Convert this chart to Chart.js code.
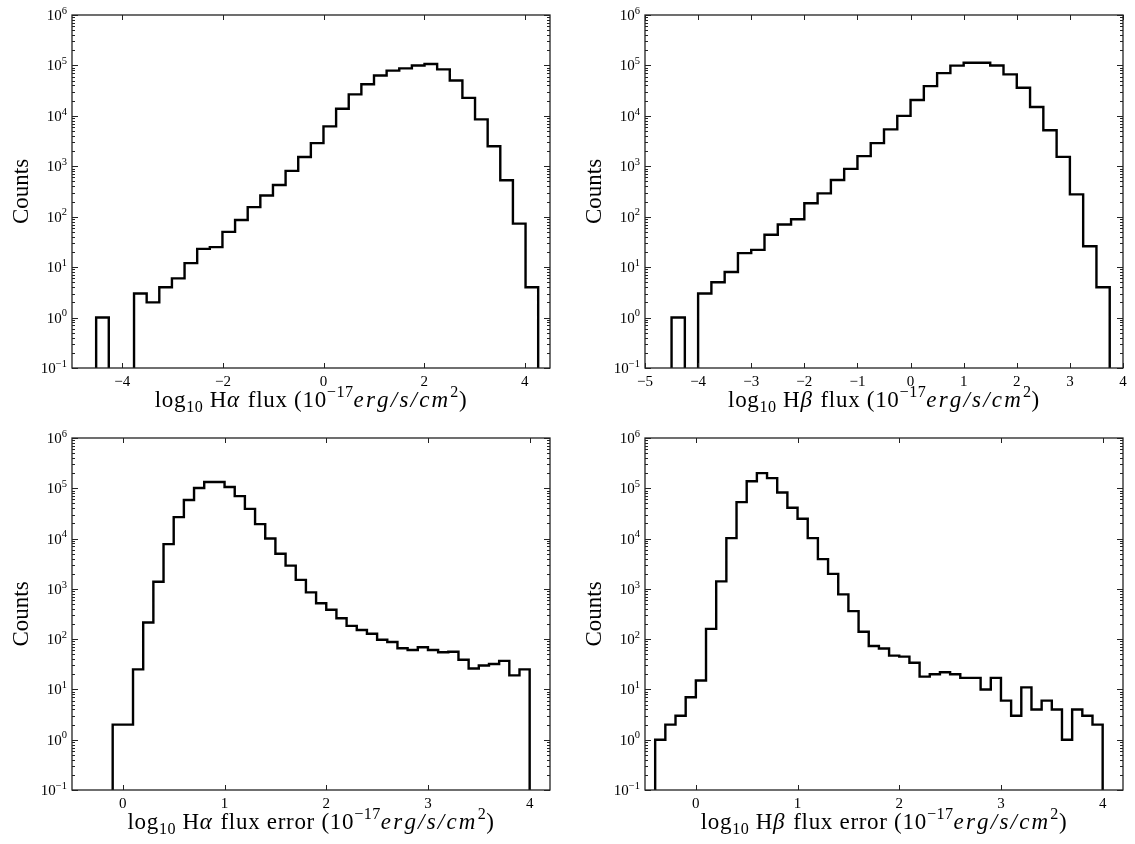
<!DOCTYPE html>
<html>
<head>
<meta charset="utf-8">
<script src="https://cdn.jsdelivr.net/npm/chart.js@4.4.0/dist/chart.umd.min.js"></script>
<style>
    body { margin: 0; background: #fff; }
    .panel { position: absolute; }
</style>
</head>
<body>
<div class="panel" style="left:0;top:0"><canvas id="haFlux" width="567" height="422"></canvas></div>
<div class="panel" style="left:567px;top:0"><canvas id="hbFlux" width="568" height="422"></canvas></div>
<div class="panel" style="left:0;top:422px"><canvas id="haErr" width="567" height="422"></canvas></div>
<div class="panel" style="left:567px;top:422px"><canvas id="hbErr" width="568" height="422"></canvas></div>
<script>
// y axis: decades 10^-1 .. 10^6
const yTickExps = [-1, 0, 1, 2, 3, 4, 5, 6];
const FLOOR = 0.01; // empty bins drop below the axis

// log10 Halpha flux
const haFluxStart = -4.52;
const haFluxBin = 0.251;
const haFluxCounts = [1, 0, 0, 3, 2, 4, 6, 12, 23, 25, 50, 86, 155, 263, 426, 810, 1530, 2880,
    6200, 13800, 26700, 42200, 63000, 79000, 87600, 100000, 107000, 83600, 50400, 22700,
    8500, 2500, 530, 73, 4];
const haFluxTicks = [-4, -2, 0, 2, 4];

// log10 Hbeta flux
const hbFluxStart = -4.5;
const hbFluxBin = 0.25;
const hbFluxCounts = [1, 0, 3, 5, 8, 19, 22, 44, 70, 89, 185, 290, 535, 890, 1590, 2880, 5400,
    10000, 20600, 38800, 70500, 99000, 113000, 113000, 100000, 66500, 36000, 15000, 5200,
    1540, 277, 26, 4];
const hbFluxTicks = [-5, -4, -3, -2, -1, 0, 1, 2, 3, 4];

// log10 Halpha flux error
const haErrStart = -0.1;
const haErrBin = 0.1;
const haErrCounts = [2, 2, 25, 214, 1380, 7740, 26700, 58300, 101000, 133000, 133000, 106000,
    70000, 39000, 19400, 10000, 5000, 2900, 1510, 850, 519, 383, 261, 184, 152, 128, 97, 88,
    66, 61, 69, 61, 55, 56, 39, 26, 30, 32, 37, 19, 25];
const haErrTicks = [0, 1, 2, 3, 4];

// log10 Hbeta flux error
const hbErrStart = -0.4;
const hbErrBin = 0.1;
const hbErrCounts = [1, 2, 3, 7, 15, 160, 1410, 10200, 53000, 138000, 200000, 159000, 82600,
    40900, 24700, 10200, 3900, 1990, 775, 360, 140, 73, 65, 47, 45, 34, 18, 20, 22, 20, 17, 17,
    10, 17, 6, 3, 11, 4, 6, 4, 1, 4, 3, 2];
const hbErrTicks = [0, 1, 2, 3, 4];

const FONT = '"Liberation Serif", "DejaVu Serif", serif';

function labelSegs(line, extra) {
    return [
        { t: 'log' }, { t: '10', sub: true }, { t: ' H' }, { t: line, it: true },
        { t: ' flux' + extra + ' (10' }, { t: '\u221217', sup: true },
        { t: 'erg/s/cm', it: true }, { t: '2', sup: true }, { t: ')' }
    ];
}

// draws text char by char so math italic can be spaced out a bit, like TeX
function drawRich(ctx, segs, cx, baseY, size, align, spacing) {
    const sp = spacing || { normal: 0, it: 0, small: 0 };
    const glyphs = [];
    segs.forEach(s => {
        const small = s.sub || s.sup;
        const fs = small ? size * 0.7 : size;
        const font = (s.it ? 'italic ' : '') + fs + 'px ' + FONT;
        const gap = small ? sp.small : (s.it ? sp.it : sp.normal);
        const dy = s.sub ? size * 0.22 : (s.sup ? -size * 0.42 : 0);
        ctx.font = font;
        for (const ch of s.t) {
            glyphs.push({ ch: ch, font: font, dy: dy, w: ctx.measureText(ch).width + gap });
        }
    });
    const total = glyphs.reduce((a, g) => a + g.w, 0);
    let x = align === 'right' ? cx - total : cx - total / 2;
    ctx.textAlign = 'left';
    ctx.textBaseline = 'alphabetic';
    glyphs.forEach(g => {
        ctx.font = g.font;
        ctx.fillText(g.ch, x, baseY + g.dy);
        x += g.w;
    });
}

const axesPlugin = {
    id: 'axes',
    afterDatasetsDraw(chart, args, opts) {
        const { ctx, chartArea: a, scales: { x, y } } = chart;
        ctx.save();
        ctx.strokeStyle = '#222';
        ctx.fillStyle = '#000';
        ctx.lineWidth = 1;

        // ticks, pointing inwards on all four sides
        ctx.beginPath();
        opts.xTicks.forEach(v => {
            const px = Math.round(x.getPixelForValue(v)) + 0.5;
            ctx.moveTo(px, a.bottom); ctx.lineTo(px, a.bottom - 5);
            ctx.moveTo(px, a.top); ctx.lineTo(px, a.top + 5);
        });
        yTickExps.forEach(e => {
            const py = Math.round(y.getPixelForValue(Math.pow(10, e))) + 0.5;
            ctx.moveTo(a.left, py); ctx.lineTo(a.left + 6, py);
            ctx.moveTo(a.right, py); ctx.lineTo(a.right - 6, py);
            if (e < 6) {
                for (let k = 2; k <= 9; k++) {
                    const my = Math.round(y.getPixelForValue(k * Math.pow(10, e))) + 0.5;
                    ctx.moveTo(a.left, my); ctx.lineTo(a.left + 3, my);
                    ctx.moveTo(a.right, my); ctx.lineTo(a.right - 3, my);
                }
            }
        });
        ctx.stroke();

        ctx.lineWidth = 1.3;
        ctx.strokeRect(a.left, a.top, a.right - a.left, a.bottom - a.top);

        // x tick labels
        ctx.font = '15px ' + FONT;
        ctx.textAlign = 'center';
        ctx.textBaseline = 'alphabetic';
        opts.xTicks.forEach(v => {
            const txt = v < 0 ? '\u2212' + Math.abs(v) : String(v);
            ctx.fillText(txt, x.getPixelForValue(v), a.bottom + 18);
        });

        // y tick labels 10^e
        yTickExps.forEach(e => {
            const py = y.getPixelForValue(Math.pow(10, e));
            const sup = e < 0 ? '\u2212' + Math.abs(e) : String(e);
            drawRich(ctx, [{ t: '10' }, { t: sup, sup: true }], a.left - 5, py + 5, 15, 'right');
        });

        // axis titles
        drawRich(ctx, opts.xLabel, (a.left + a.right) / 2, a.bottom + 39, 23, 'center',
            { normal: 0.7, it: 2.2, small: 0.5 });
        ctx.save();
        ctx.translate(a.left - 50, (a.top + a.bottom) / 2);
        ctx.rotate(-Math.PI / 2);
        ctx.font = '23px ' + FONT;
        ctx.textAlign = 'center';
        ctx.textBaseline = 'middle';
        ctx.fillText('Counts', 0, 0);
        ctx.restore();

        ctx.restore();
    }
};

function stepPoints(start, bin, counts) {
    const pts = [{ x: start, y: FLOOR }];
    counts.forEach((c, i) => {
        const v = c > 0 ? c : FLOOR;
        pts.push({ x: start + i * bin, y: v }, { x: start + (i + 1) * bin, y: v });
    });
    pts.push({ x: start + counts.length * bin, y: FLOOR });
    return pts;
}

function makeHist(id, start, bin, counts, xMin, xMax, xTicks, xLabel, pad) {
    const ctx = document.getElementById(id).getContext('2d');
    return new Chart(ctx, {
        type: 'line',
        data: {
            datasets: [{
                data: stepPoints(start, bin, counts),
                borderColor: '#000',
                borderWidth: 2.4,
                pointRadius: 0,
                tension: 0,
                fill: false,
                clip: 0
            }]
        },
        options: {
            responsive: false,
            animation: false,
            layout: { padding: pad },
            plugins: {
                legend: { display: false },
                tooltip: { enabled: false },
                axes: { xTicks: xTicks, xLabel: xLabel }
            },
            scales: {
                x: { type: 'linear', min: xMin, max: xMax, display: false },
                y: { type: 'logarithmic', min: 0.1, max: 1e6, display: false }
            }
        },
        plugins: [axesPlugin]
    });
}

makeHist('haFlux', haFluxStart, haFluxBin, haFluxCounts, -5, 4.5, haFluxTicks,
    labelSegs('\u03b1', ''), { left: 72, top: 15, right: 17, bottom: 54 });
makeHist('hbFlux', hbFluxStart, hbFluxBin, hbFluxCounts, -5, 4, hbFluxTicks,
    labelSegs('\u03b2', ''), { left: 78, top: 15, right: 12, bottom: 54 });
makeHist('haErr', haErrStart, haErrBin, haErrCounts, -0.5, 4.2, haErrTicks,
    labelSegs('\u03b1', ' error'), { left: 72, top: 16, right: 17, bottom: 54 });
makeHist('hbErr', hbErrStart, hbErrBin, hbErrCounts, -0.5, 4.2, hbErrTicks,
    labelSegs('\u03b2', ' error'), { left: 78, top: 16, right: 12, bottom: 54 });
</script>
</body>
</html>
